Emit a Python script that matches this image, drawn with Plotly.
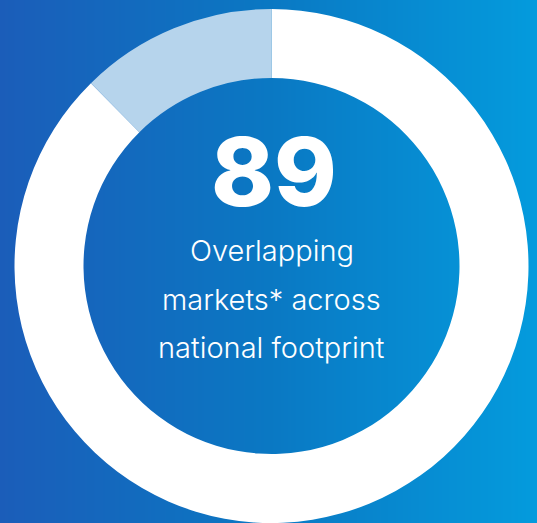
import plotly.graph_objects as go

# Data
slice_labels = ["Overlapping markets", "Other"]
slice_values = [87.6, 12.4]
slice_colors = ["#FFFFFF", "#B6D4EC"]
headline = "89"
caption_lines = ["Overlapping", "markets* across", "national footprint"]

W, H = 537, 523
cx, cy, R = 271.5, 266.0, 257.0

fig = go.Figure()

# gradient background
fig.add_trace(go.Heatmap(
    z=[[0, 1], [0, 1]], x=[0, 1], y=[0, 1], zsmooth="best",
    colorscale=[[0, "#1B5DB9"], [0.5, "#0A78C3"], [1, "#049BDD"]],
    showscale=False, hoverinfo="skip",
))

fig.add_trace(go.Pie(
    labels=slice_labels, values=slice_values,
    marker=dict(colors=slice_colors, line=dict(width=0)),
    hole=188 / 257, sort=False, direction="clockwise", rotation=0,
    textinfo="none", hoverinfo="skip", showlegend=False,
    domain=dict(x=[(cx - R) / W, (cx + R) / W], y=[(H - cy - R) / H, (H - cy + R) / H]),
))

fig.add_annotation(
    text=headline, x=(cx + 2) / W, y=1 - 172 / H, xref="paper", yref="paper",
    xanchor="center", yanchor="middle", showarrow=False,
    font=dict(family="Inter", size=95, color="white", weight=800),
)
for i, line in enumerate(caption_lines):
    fig.add_annotation(
        text=line, x=cx / W, y=1 - (251 + 48 * i) / H, xref="paper", yref="paper",
        xanchor="center", yanchor="middle", showarrow=False,
        font=dict(family="Inter", size=29, color="white", weight=300),
    )

fig.update_layout(
    width=W, height=H, margin=dict(l=0, r=0, t=0, b=0),
    paper_bgcolor="#0A78C3", plot_bgcolor="#0A78C3",
    xaxis=dict(range=[0, 1], visible=False, fixedrange=True),
    yaxis=dict(range=[0, 1], visible=False, fixedrange=True),
    showlegend=False,
)

fig.write_html("out.html", config={"displayModeBar": False},
               post_script="document.body.style.margin='0';document.body.style.overflow='hidden';")
